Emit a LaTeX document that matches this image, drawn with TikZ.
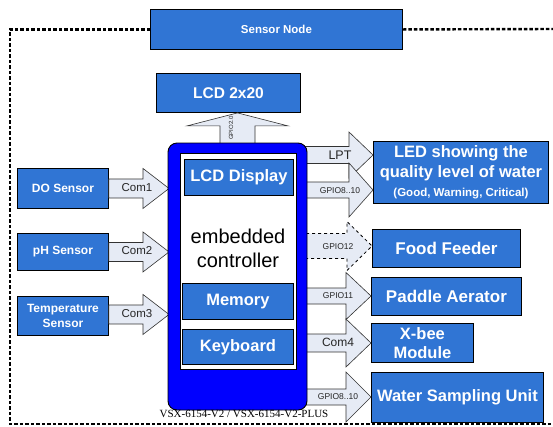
\documentclass[tikz,border=0pt]{standalone}
\usepackage{fontspec}
\setmainfont{Liberation Sans}
\newfontfamily\vsxserif{Liberation Serif}
\usetikzlibrary{calc}
\definecolor{boxblue}{RGB}{48,117,212}
\definecolor{ctrlblue}{RGB}{0,0,255}
\definecolor{arrfill}{RGB}{230,235,245}
\definecolor{arrline}{RGB}{50,50,50}
\newcommand\fs[1]{\fontsize{#1}{#1}\selectfont}
\newcommand\harrowx[6][]{%
  \draw[barrow,#1] let \p1=(#2), \p2=(#3) in
    (\x1,\y1+#4pt) -- (\x2-#6pt,\y1+#4pt) -- (\x2-#6pt,\y1+#5pt) -- (\x2,\y1)
    -- (\x2-#6pt,\y1-#5pt) -- (\x2-#6pt,\y1-#4pt) -- (\x1,\y1-#4pt) -- cycle;}
\tikzset{
  bbox/.style={draw=black, line width=0.9pt, fill=boxblue, text=white,
    anchor=north west, align=center, inner sep=0pt, font=\bfseries},
  barrow/.style={draw=arrline, line width=0.6pt, fill=arrfill, line join=miter},
  lbl/.style={text=black!85, inner sep=0pt},
  border/.style={line width=2.4pt, dash pattern=on 3.5pt off 2pt}
}
\begin{document}
\begin{tikzpicture}[x=1pt,y=-1pt]
\useasboundingbox (0,0) rectangle (553,426);
% boxes
\node[bbox, minimum width=252pt, minimum height=40pt, font=\bfseries\fs{11.5}] (sn) at (150,9) {Sensor Node};
\node[bbox, minimum width=144pt, minimum height=39pt, font=\bfseries\fs{15.5}] (lcd) at (156,73) {LCD 2x20};
\node[bbox, minimum width=91pt, minimum height=40pt, font=\bfseries\fs{12}] (do) at (17,168) {DO Sensor};
\node[bbox, minimum width=91pt, minimum height=37pt, font=\bfseries\fs{12}] (ph) at (17,233) {pH Sensor};
\node[bbox, minimum width=91pt, minimum height=39pt, font=\bfseries\fontsize{12}{15}\selectfont] (temp) at (17,296) {Temperature\\Sensor};
\node[bbox, minimum width=175pt, minimum height=62pt, font=\bfseries\fontsize{16.5}{20}\selectfont] (led) at (373,141)
  {LED showing the\\quality level of water\\[-1pt]{\fontsize{11.5}{12}\selectfont (Good, Warning, Critical)}};
\node[bbox, minimum width=148pt, minimum height=38pt, font=\bfseries\fs{17}] (ff) at (372,229) {Food Feeder};
\node[bbox, minimum width=150pt, minimum height=38pt, font=\bfseries\fs{17}] (pa) at (371,277) {Paddle Aerator};
\node[bbox, minimum width=102pt, minimum height=39pt, font=\bfseries\fontsize{16.5}{19}\selectfont] (xb) at (371,323) {X-bee\\Module};
\node[bbox, minimum width=172pt, minimum height=50pt, font=\bfseries\fs{16.5}] (ws) at (371,372) {Water Sampling Unit};
% controller coordinates
\coordinate (ctrlW) at (169,0);
\coordinate (ctrlE) at (307,0);
% left arrows
\harrowx{do.east}{ctrlW |- do.east}{9.5}{20}{26}
\harrowx{ph.east}{ctrlW |- ph.east}{9.5}{20}{26}
\harrowx{$(temp.east)+(0,-1.5)$}{ctrlW |- temp.east}{9.5}{20}{26}
\node[lbl, font=\fs{11.5}] (c1) at (137,188) {Com1};
\node[lbl, font=\fs{11.5}] (c2) at (137,251) {Com2};
\node[lbl, font=\fs{11.5}] (c3) at (137,314) {Com3};
% right arrows
\coordinate (a1) at (300,155);
\coordinate (a2) at (300,190);
\coordinate (a3) at (300,246);
\coordinate (a4) at (300,296);
\coordinate (a5) at (300,343);
\coordinate (a6) at (300,397);
\harrowx{a1}{led.west |- a1}{8.5}{23}{24}
\harrowx{a2}{led.west |- a2}{8}{27}{24}
\harrowx[dashed, draw=black, line width=0.8pt]{a3}{ff.west |- a3}{12.5}{24.5}{25}
\harrowx{a4}{pa.west |- a4}{8}{23.5}{25}
\harrowx{a5}{xb.west |- a5}{9}{24}{25}
\harrowx{a6}{ws.west |- a6}{8}{25}{25}
\node[lbl, font=\fs{12.5}] (lpt) at (340,155) {LPT};
\node[lbl, font=\fs{8.5}] (g1) at (340,191) {GPIO8..10};
\node[lbl, font=\fs{8.5}] (g2) at (338,247) {GPIO12};
\node[lbl, font=\fs{8.5}] (g3) at (338,296) {GPIO11};
\node[lbl, font=\fs{12}] (c4) at (338,342) {Com4};
\node[lbl, font=\fs{8.5}] (g4) at (338,397) {GPIO8..10};
% up arrow
\coordinate (upS) at (237.5,150);
\draw[barrow] let \p1=(upS), \p2=(upS |- lcd.south) in
  (\x1-17.5pt,\y1) -- (\x1-17.5pt,\y2-13pt) -- (\x1-50.5pt,\y2-13pt) -- (\x1,\y2)
  -- (\x1+50.5pt,\y2-13pt) -- (\x1+17.5pt,\y2-13pt) -- (\x1+17.5pt,\y1) -- cycle;
\node[lbl, font=\fs{6}, rotate=90] (g0) at (231,128) {GPIO2.0};
% controller
\draw[fill=ctrlblue, draw=black, line width=0.9pt, rounded corners=9pt] (168,143) rectangle (307,410);
\draw[fill=white, draw=black, line width=0.8pt] (180,153) rectangle (296,369);
\node[bbox, minimum width=109pt, minimum height=36pt, font=\bfseries\fs{16.5}] (lcdd) at (184,159) {LCD Display};
\node[bbox, minimum width=111pt, minimum height=36pt, font=\bfseries\fs{16.5}] (mem) at (182,283) {Memory};
\node[bbox, minimum width=111pt, minimum height=35pt, font=\bfseries\fs{16.5}] (kb) at (182,329) {Keyboard};
\node[align=center, inner sep=0pt, font=\fontsize{20}{24}\selectfont] (emb) at (238,248) {embedded\\controller};
\node[inner sep=0pt, font=\vsxserif\fs{11}] (vsx) at (244,414) {VSX-6154-V2 / VSX-6154-V2-PLUS};
% dotted border
\coordinate (bl) at (10,424);
\coordinate (br) at (553,424);
\coordinate (tr) at (553,29);
\draw[border] (sn.west) -- (sn.west -| bl) -- (bl) -- (br);
\draw[border] (sn.east) -- (tr);
\end{tikzpicture}
\end{document}
